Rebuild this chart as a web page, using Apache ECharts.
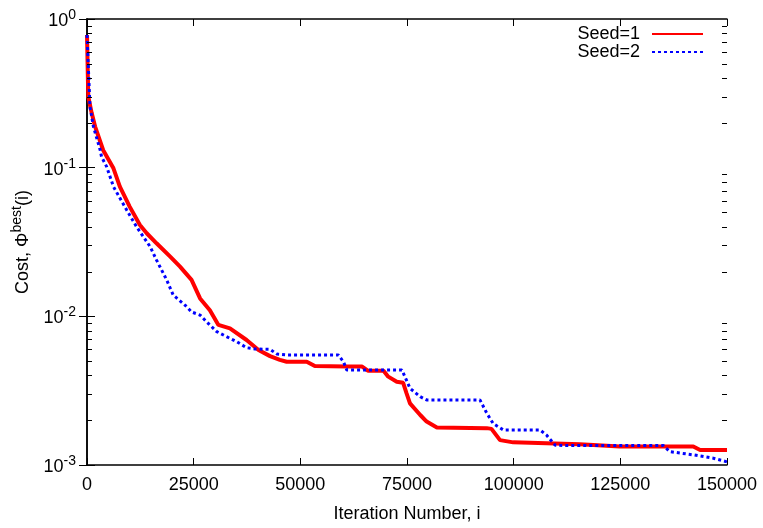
<!DOCTYPE html>
<html><head><meta charset="utf-8">
<script src="https://cdn.jsdelivr.net/npm/echarts@6/dist/echarts.min.js"></script>
<style>html,body{margin:0;padding:0;background:#fff}#c{width:763px;height:528px}</style>
</head><body><div id="c"></div>
<script>
const xTicks = [0, 25000, 50000, 75000, 100000, 125000, 150000];
const seed1Iter = [0,300,1100,1900,3800,6200,7700,10000,12400,14000,16300,19500,21800,24500,26500,28800,30800,33500,37400,40200,42900,45200,46800,51500,53400,60900,64400,65900,69500,70600,72600,74100,74900,75700,78100,79600,82000,93700,94800,96800,99900,107700,115500,124900,142100,143700,150000];
const seed1Cost = [0.78,0.30,0.233,0.189,0.131,0.099,0.0745,0.0547,0.0411,0.0362,0.031,0.0252,0.0216,0.0176,0.0132,0.011,0.00875,0.0083,0.00693,0.00594,0.0054,0.0051,0.00495,0.00495,0.00463,0.0046,0.0046,0.0043,0.0043,0.00393,0.00363,0.00357,0.00303,0.0026,0.00217,0.00196,0.00179,0.00177,0.00175,0.00147,0.00142,0.0014,0.00138,0.00133,0.00133,0.00126,0.00126];
const seed2Iter = [0,700,1500,3100,3400,4600,6200,9300,11600,14800,16300,18700,20200,23400,24500,26500,28000,30400,32700,35100,37400,39400,42900,44500,46800,58900,60100,60900,73800,74500,75700,78100,79600,92100,93700,95200,97600,106200,107700,109700,112400,135100,136600,142100,146800,150000];
const seed2Cost = [0.78,0.257,0.189,0.131,0.1185,0.1016,0.0745,0.0519,0.0401,0.0294,0.0239,0.0175,0.0139,0.0116,0.0107,0.0102,0.0092,0.0079,0.0073,0.00675,0.00615,0.00603,0.006,0.00558,0.0055,0.0055,0.00495,0.00435,0.00435,0.00393,0.00328,0.00288,0.00274,0.00274,0.00223,0.0019,0.00172,0.00172,0.00159,0.00136,0.00135,0.00135,0.00123,0.00117,0.00111,0.00105];
const minorTickValues = [0.002,0.003,0.004,0.005,0.006,0.007,0.008,0.009,0.02,0.03,0.04,0.05,0.06,0.07,0.08,0.09,0.2,0.3,0.4,0.5,0.6,0.7,0.8,0.9];

const FONT = '"Liberation Sans", Arial, sans-serif';
const FS = 18;
const chart = echarts.init(document.getElementById('c'), null, {renderer: 'canvas'});
const pair = (xs, ys) => xs.map((x, i) => [x, ys[i]]);
const expFmt = v => '{b|10}{s|' + Math.round(Math.log10(v)) + '}';
const axisLine = {show: true, lineStyle: {color: '#000', width: 1.5}};
const xMin = xTicks[0], xMax = xTicks[xTicks.length - 1];

const tickRenderer = side => (params, api) => {
  const p = api.coord([api.value(0), api.value(1)]);
  const y = Math.round(p[1]);
  const x0 = side < 0 ? p[0] : p[0] - 5;
  return {type: 'rect', shape: {x: x0, y: y, width: 5, height: 1}, style: {fill: '#000'}, z2: 100};
};

chart.setOption({
  animation: false,
  backgroundColor: '#fff',
  grid: {left: 87, right: 36, top: 19, bottom: 63},
  legend: {
    orient: 'vertical', right: 59, top: 25, align: 'right', padding: 0,
    itemWidth: 51, itemHeight: 12, itemGap: 0,
    itemStyle: {opacity: 0},
    textStyle: {fontFamily: FONT, fontSize: FS, color: '#000', lineHeight: 18, padding: [0, 7, 0, 0]},
    data: ['Seed=1', 'Seed=2']
  },
  xAxis: [{
    type: 'value', min: xMin, max: xMax, interval: 25000, position: 'bottom',
    axisLine, splitLine: {show: false},
    axisTick: {show: true, inside: true, length: 7, lineStyle: {color: '#000', width: 1}},
    axisLabel: {fontFamily: FONT, fontSize: FS, color: '#000', margin: 11, formatter: v => String(v)},
    name: 'Iteration Number, i', nameLocation: 'middle', nameGap: 40,
    nameTextStyle: {fontFamily: FONT, fontSize: FS, color: '#000'}
  }, {
    type: 'value', min: xMin, max: xMax, interval: 25000, position: 'top',
    axisLine, splitLine: {show: false},
    axisTick: {show: true, inside: true, length: 7, lineStyle: {color: '#000', width: 1}},
    axisLabel: {show: false}
  }],
  yAxis: [{
    type: 'log', logBase: 10, min: 0.001, max: 1, position: 'left',
    axisLine, splitLine: {show: false}, minorTick: {show: false},
    axisTick: {show: true, inside: true, length: 8, lineStyle: {color: '#000', width: 1}},
    axisLabel: {
      formatter: expFmt, margin: 11,
      rich: {
        b: {fontFamily: FONT, fontSize: FS, color: '#000', verticalAlign: 'bottom'},
        s: {fontFamily: FONT, fontSize: 14, color: '#000', verticalAlign: 'bottom', padding: [0, 0, 8, 0]}
      }
    },
    name: '{a|Cost, Φ}{s|best}{a|(i)}', nameLocation: 'middle', nameGap: 55, nameRotate: 90,
    nameTextStyle: {
      rich: {
        a: {fontFamily: FONT, fontSize: FS, color: '#000', verticalAlign: 'bottom'},
        s: {fontFamily: FONT, fontSize: 14, color: '#000', verticalAlign: 'bottom', padding: [0, 0, 8, 0]}
      }
    }
  }, {
    type: 'log', logBase: 10, min: 0.001, max: 1, position: 'right',
    axisLine, splitLine: {show: false},
    axisTick: {show: true, inside: true, length: 8, lineStyle: {color: '#000', width: 1}},
    axisLabel: {show: false}
  }],
  series: [{
    name: 'Seed=1', type: 'line', xAxisIndex: 0, yAxisIndex: 0,
    data: pair(seed1Iter, seed1Cost), showSymbol: false, smooth: false,
    itemStyle: {color: '#ff0000'},
    lineStyle: {color: '#ff0000', width: 4}, z: 3
  }, {
    name: 'Seed=2', type: 'line', xAxisIndex: 0, yAxisIndex: 0,
    data: pair(seed2Iter, seed2Cost), showSymbol: false, smooth: false,
    itemStyle: {color: '#0000ff'},
    lineStyle: {color: '#0000ff', width: 3, type: [3, 3]}, z: 4
  }, {
    name: 'minorR', type: 'custom', xAxisIndex: 0, yAxisIndex: 0, silent: true, clip: false, z: 20,
    data: minorTickValues.map(v => [xMax, v]),
    renderItem: tickRenderer(1)
  }, {
    name: 'minorL', type: 'custom', xAxisIndex: 0, yAxisIndex: 0, silent: true, clip: false, z: 20,
    data: minorTickValues.map(v => [xMin, v]),
    renderItem: tickRenderer(-1)
  }]
});
</script></body></html>
